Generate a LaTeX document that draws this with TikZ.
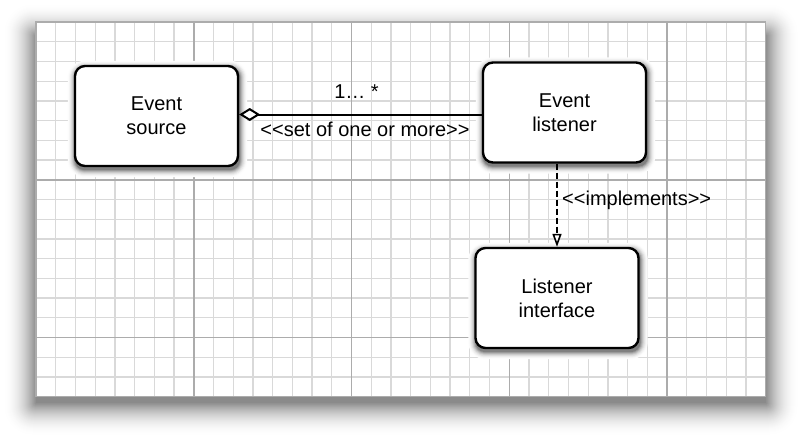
\documentclass[tikz,border=0pt]{standalone}
\usepackage{fontspec}
\setmainfont{Liberation Sans}
\usetikzlibrary{arrows.meta,calc}
\pgfdeclarelayer{bg}
\pgfdeclarelayer{shadow}
\pgfsetlayers{bg,shadow,main}
\newcommand\lguil{<\kern0pt<}
\newcommand\rguil{>\kern0pt>}
\begin{document}
\begin{tikzpicture}[x=1pt,y=-1pt,
  box/.style={draw=black, line width=2.4pt, rounded corners=10pt, fill=white,
    minimum width=163pt, minimum height=100pt, align=center,
    font=\fontsize{20}{24}\selectfont, inner sep=0pt},
  lbl/.style={font=\fontsize{20}{24}\selectfont, inner sep=0pt, anchor=base},
  minor/.style={draw=gray!30, line width=1.3pt},
  major/.style={draw=gray!65, line width=1.5pt}]
\useasboundingbox (0,0) rectangle (800,437);
\begin{pgfonlayer}{bg}
\fill[white] (0,0) rectangle (800,437);
% paper shadow (solid graded layers)
\foreach \s in {32,31,...,0} {
  \pgfmathsetmacro\d{46*(1-\s/33)^2}
  \fill[black!\d!white, rounded corners={\s*0.9pt}] ({36-\s},{36-\s}) rectangle ({766+\s},{403+\s});
}
% paper
\fill[white] (36,22) rectangle (765.6,396.7);
\foreach \i in {1,...,36} \draw[minor] ({36+\i*19.72},22) -- ({36+\i*19.72},396.7);
\foreach \j in {1,...,18} \draw[minor] (36,{22+\j*19.72}) -- (765.6,{22+\j*19.72});
\foreach \i in {8,16,24,32} \draw[major] ({36+\i*19.72},22) -- ({36+\i*19.72},396.7);
\foreach \j in {8,16} \draw[major] (36,{22+\j*19.72}) -- (765.6,{22+\j*19.72});
\draw[major] (36,22) rectangle (765.6,396.7);
\end{pgfonlayer}
% boxes
\node[box] (es) at (156.5,116) {Event\\source};
\node[box] (el) at (564.5,112.5) {Event\\listener};
\node[box] (li) at (557,298) {Listener\\interface};
\begin{pgfonlayer}{shadow}
\foreach \n in {es,el,li} {
  \foreach \s in {7,6,...,0} {
    \pgfmathsetmacro\d{50*(1-\s/8)^2}
    \fill[black!\d!white, rounded corners={(10+\s)*1pt}]
      ($(\n.north west)+({1-\s},{3-\s})$) rectangle ($(\n.south east)+({1+\s},{3+\s})$);
  }
}
\end{pgfonlayer}
% association
\coordinate (elw) at ($(el.west)+(0,2)$);
\draw[line width=2pt, {Diamond[fill=white, length=21pt, width=13pt, line width=2pt]}-] (elw -| es.east) -- (elw);
\node[lbl] (mult) at (356.5,98) {1… *};
\node[lbl] (role) at (365,136) {\lguil set of one or more\rguil};
% realization
\draw[line width=2pt, dash pattern=on 6pt off 3pt, -{Triangle[fill=white, length=13pt, width=9pt, line width=1.6pt, sep=0pt]}] (el.south -| li.north) -- (li.north);
\node[lbl, anchor=base west] (impl) at (562,205) {\lguil implements\rguil};
\end{tikzpicture}
\end{document}
